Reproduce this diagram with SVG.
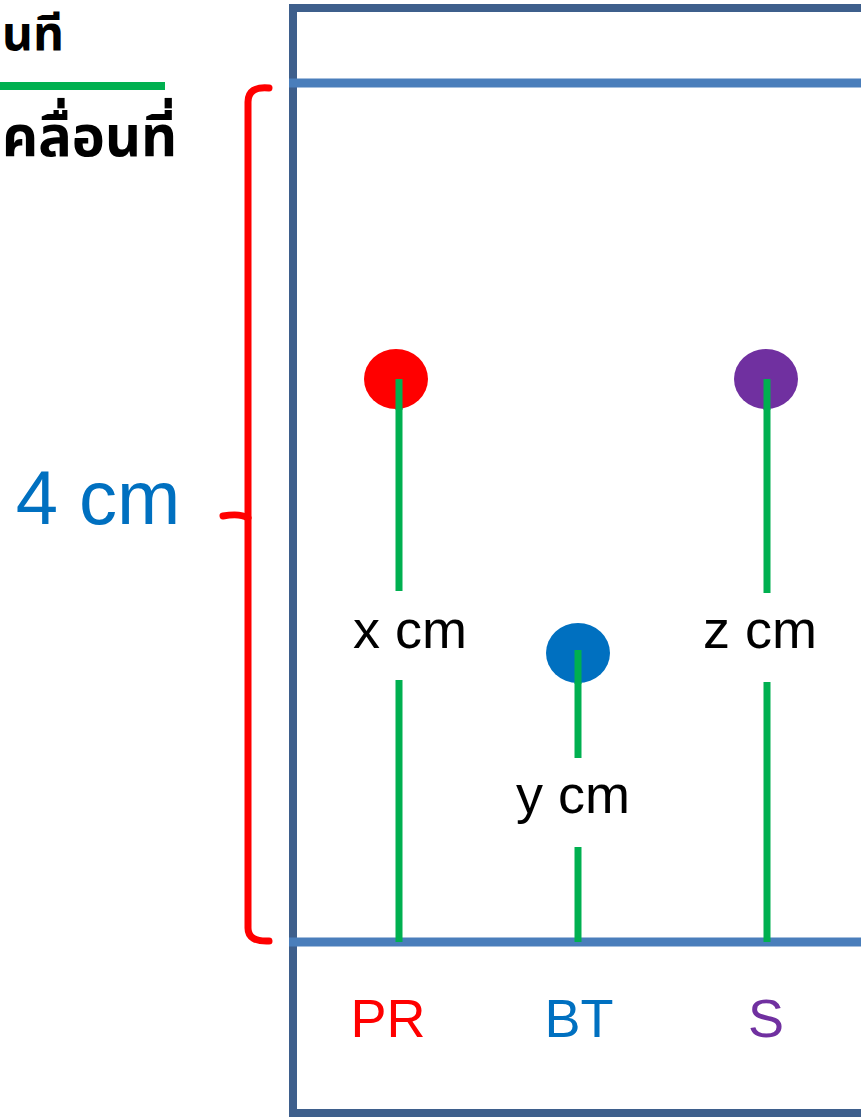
<svg xmlns="http://www.w3.org/2000/svg" width="861" height="1117" viewBox="0 0 861 1117">
<style>
.frame{fill:none;stroke:#3e5f8c;stroke-width:8}
.hline{stroke:#4a7ebb;stroke-width:9}
.green{stroke:#00b050;stroke-width:7;fill:none}
.bracket{stroke:#ff0000;stroke-width:7;fill:none;stroke-linecap:round}
.lbl{font-family:"Liberation Sans",Arial,sans-serif;font-size:54px;text-anchor:middle}
.thai{font-family:"Noto Sans Thai","Tahoma","Noto Sans","DejaVu Sans",sans-serif;font-weight:bold;fill:#000;text-anchor:start}
</style>
<rect width="861" height="1117" fill="#ffffff"/>
<g id="thai-labels">
<text class="thai" x="2" y="50" font-size="48">นที</text>
<line x1="0" y1="86" x2="165" y2="86" stroke="#00b050" stroke-width="8"/>
<text class="thai" x="2" y="156" font-size="56">คลื่อนที่</text>
</g>
<g id="plate">
<rect class="frame" x="293" y="8" width="700" height="1105"/>
<line class="hline" x1="289" y1="83" x2="861" y2="83"/>
<line class="hline" x1="289" y1="942" x2="861" y2="942"/>
</g>
<g id="bracket">
<path class="bracket" d="M269 88 Q248 86 248 102 L248 928 Q248 942 269 941"/>
<path class="bracket" d="M223 516 Q240 513 248 518"/>
<text x="98" y="524" font-family="'Liberation Sans',Arial,sans-serif" font-size="76" fill="#0070c0" text-anchor="middle">4 cm</text>
</g>
<g id="connectors">
<line class="green" x1="399" y1="379" x2="399" y2="591"/>
<line class="green" x1="399" y1="680" x2="399" y2="942"/>
<line class="green" x1="578" y1="650" x2="578" y2="758"/>
<line class="green" x1="578" y1="847" x2="578" y2="942"/>
<line class="green" x1="767" y1="379" x2="767" y2="593"/>
<line class="green" x1="767" y1="682" x2="767" y2="942"/>
</g>
<g id="node-PR">
<ellipse cx="396" cy="379" rx="32" ry="30" fill="#ff0000"/>
<line class="green" x1="399" y1="379" x2="399" y2="410"/>
<text class="lbl" x="410" y="648" fill="#000">x cm</text>
<text class="lbl" x="388" y="1037" fill="#ff0000">PR</text>
</g>
<g id="node-BT">
<ellipse cx="578" cy="653" rx="32" ry="30" fill="#0070c0"/>
<line class="green" x1="578" y1="650" x2="578" y2="684"/>
<text class="lbl" x="573" y="813" fill="#000">y cm</text>
<text class="lbl" x="579" y="1037" fill="#0070c0">BT</text>
</g>
<g id="node-S">
<ellipse cx="766" cy="379" rx="32" ry="30" fill="#7030a0"/>
<line class="green" x1="767" y1="379" x2="767" y2="410"/>
<text class="lbl" x="760" y="648" fill="#000">z cm</text>
<text class="lbl" x="766" y="1037" fill="#7030a0">S</text>
</g>
</svg>
